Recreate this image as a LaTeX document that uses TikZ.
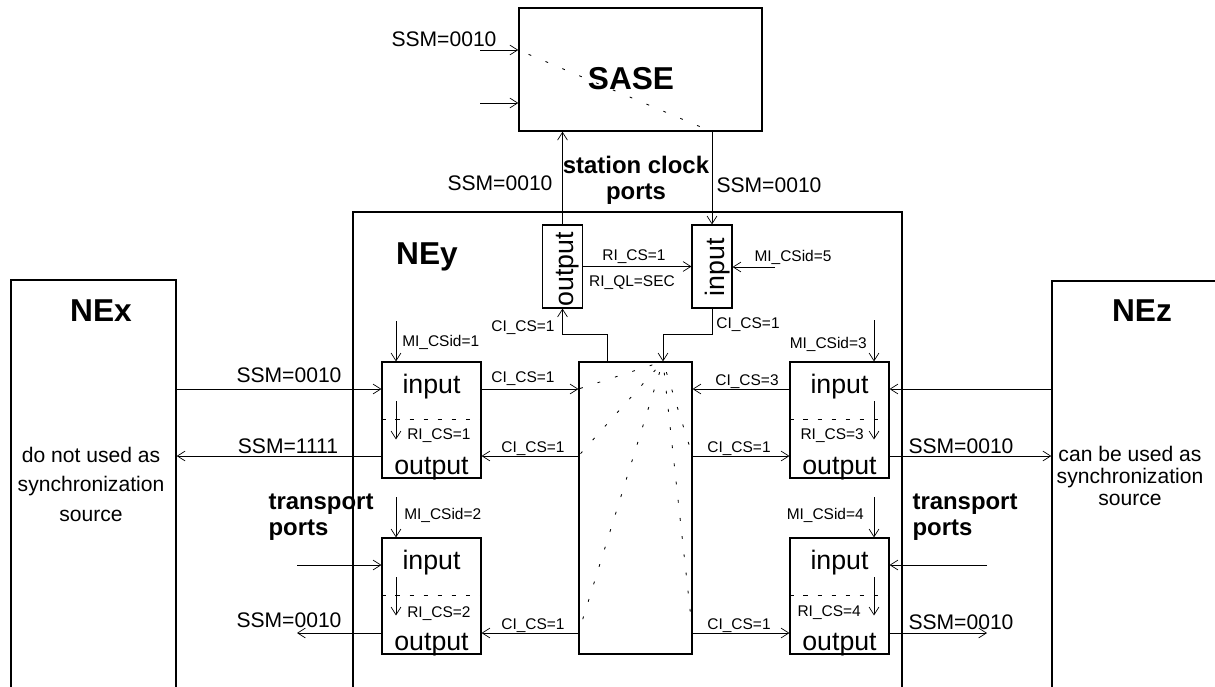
\documentclass[tikz,border=0pt]{standalone}
\usepackage{fontspec}
\setmainfont{Liberation Sans}
\usetikzlibrary{arrows.meta,calc,positioning}
\newcommand{\fsml}{\fontsize{11pt}{13pt}\selectfont}
\newcommand{\fmid}{\fontsize{15pt}{18pt}\selectfont}
\newcommand{\fprt}{\fontsize{19pt}{22pt}\selectfont}
\newcommand{\fhdr}{\fontsize{17pt}{18.5pt}\selectfont\bfseries}
\newcommand{\fttl}{\fontsize{22.5pt}{26pt}\selectfont\bfseries}

\begin{document}
\begin{tikzpicture}[x=0.025cm,y=-0.025cm,
  every node/.style={inner sep=0pt,font=\fsml},
  >={Straight Barb[length=5.5pt,width=7pt]},
  box/.style={draw,line width=0.8pt},
  ne/.style={draw,line width=1pt},
  portbox/.style={box,minimum width=2.475cm,minimum height=2.9cm},
  clkbox/.style={box,minimum width=1cm,minimum height=2.075cm},
  sig/.style={line width=0.5pt},
  dots/.style={line width=0.6pt,dash pattern=on 2pt off 11pt,dash phase=5pt},
  sep/.style={line width=0.5pt,dash pattern=on 3pt off 7pt},
  ssm/.style={font=\fmid}]
  \useasboundingbox (0,0) rectangle (1215,686);
  \clip (0,0) rectangle (1215,686);

  % network elements
  \node[ne,minimum width=4.125cm,minimum height=11cm] (nex) at (93.5,500) {};
  \node[ne,minimum width=13.725cm,minimum height=12.7cm] (ney) at (627.5,466) {};
  \node[ne,minimum width=4.95cm,minimum height=10.975cm] (nez) at (1151,500.5) {};
  \node[ne,minimum width=6.075cm,minimum height=3.075cm] (sase) at (640.5,69.5) {};
  \node[font=\fttl] (nexttl) at (101,311) {NEx};
  \node[font=\fttl] (neyttl) at (427,257) {NEy};
  \node[font=\fttl] (nezttl) at (1142,311) {NEz};
  \node[font=\fttl] (sasettl) at (631,78.5) {SASE};
  \node[font={\fontsize{15pt}{21pt}\selectfont},align=center] (nexsrc) at (91,484) {do not used as\\synchronization\\source};
  \node[font={\fontsize{15pt}{15.5pt}\selectfont},align=center] (nezsrc) at (1130,476) {can be used as\\synchronization\\source};

  % ports and matrix
  \node[box,minimum width=2.825cm,minimum height=7.3cm] (mx) at (635.5,508) {};
  \node[portbox] (p1) at (431.5,420) {};
  \node[portbox] (p2) at (431.5,596) {};
  \node[portbox] (p3) at (839.5,420) {};
  \node[portbox] (p4) at (839.5,596) {};
  \foreach \p in {p1,p2,p3,p4}{
    \draw[sep] ([yshift=-1.45cm]\p.north west) -- ([yshift=-1.45cm]\p.north east);
    \node[font=\fprt,anchor=base] (\p-in) at ([yshift=-0.8cm]\p.north) {input};
    \node[font=\fprt,anchor=base] (\p-out) at ([yshift=-2.83cm]\p.north) {output};
  }
  \node[clkbox] (clkout) at (562.5,266.5) {};
  \node[clkbox] (clkin) at (712,266.5) {};
  \node[font=\fprt,rotate=90] (clkouttxt) at (568,269) {output};
  \node[font=\fprt,rotate=90] (clkintxt) at (718,267.5) {input};

  % rows and free ends
  \coordinate (r1) at (0,389);
  \coordinate (r2) at (0,456);
  \coordinate (r3) at (0,565);
  \coordinate (r4) at (0,633);
  \coordinate (tl) at (297,0);
  \coordinate (tr) at (987,0);

  % left transport ports
  \draw[sig,->] (nex.east |- r1) -- (p1.west |- r1);
  \draw[sig,->] (p1.west |- r2) -- (nex.east |- r2);
  \draw[sig,->] (p1.east |- r1) -- (mx.west |- r1);
  \draw[sig,->] (mx.west |- r2) -- (p1.east |- r2);
  \draw[sig,->] (tl |- r3) -- (p2.west |- r3);
  \draw[sig,->] (p2.west |- r4) -- (tl |- r4);
  \draw[sig,->] (mx.west |- r4) -- (p2.east |- r4);
  % right transport ports
  \draw[sig,->] (nez.west |- r1) -- (p3.east |- r1);
  \draw[sig,->] (p3.east |- r2) -- (nez.west |- r2);
  \draw[sig,->] (p3.west |- r1) -- (mx.east |- r1);
  \draw[sig,->] (mx.east |- r2) -- (p3.west |- r2);
  \draw[sig,->] (tr |- r3) -- (p4.east |- r3);
  \draw[sig,->] (p4.east |- r4) -- (tr |- r4);
  \draw[sig,->] (mx.east |- r4) -- (p4.west |- r4);

  % MI and RI arrows
  \coordinate (mi1) at (396,321);
  \coordinate (mi2) at (396,497);
  \coordinate (mi3) at (874,320);
  \coordinate (mi4) at (874,497);
  \foreach \m/\p in {mi1/p1,mi2/p2,mi3/p3,mi4/p4}{
    \draw[sig,->] (\m) -- (\m |- \p.north);
    \draw[sig,->] ([yshift=-1cm]\m |- \p.north) -- ++(0,38);
  }

  % labels
  \node[anchor=west] (lmi1) at (402,342) {MI\_CSid=1};
  \node[anchor=west] (lmi2) at (404,515) {MI\_CSid=2};
  \node[anchor=east] (lmi3) at (867,344) {MI\_CSid=3};
  \node[anchor=east] (lmi4) at (864,515) {MI\_CSid=4};
  \node[anchor=west] (lri1) at (407,436) {RI\_CS=1};
  \node[anchor=west] (lri2) at (407,614) {RI\_CS=2};
  \node[anchor=east] (lri3) at (864,436) {RI\_CS=3};
  \node[anchor=east] (lri4) at (861,613) {RI\_CS=4};
  \node (lci1) at (523,379) {CI\_CS=1};
  \node (lci2) at (533,449) {CI\_CS=1};
  \node (lci3) at (533,626) {CI\_CS=1};
  \node (lci4) at (747,382) {CI\_CS=3};
  \node (lci5) at (739,449) {CI\_CS=1};
  \node (lci6) at (739,626) {CI\_CS=1};
  \node[ssm] (lssm1) at (289,375) {SSM=0010};
  \node[ssm] (lssm2) at (288,446) {SSM=1111};
  \node[ssm] (lssm3) at (289,620) {SSM=0010};
  \node[ssm] (lssm4) at (961,446) {SSM=0010};
  \node[ssm] (lssm5) at (961,622) {SSM=0010};
  \node[font=\fhdr,align=left] (tpl) at (321,517) {transport\\ports};
  \node[font=\fhdr,align=left] (tpr) at (965,517) {transport\\ports};

  % station clock ports
  \coordinate (s1) at (480,50);
  \coordinate (s2) at (480,103);
  \coordinate (mi5) at (775,267);
  \coordinate (k1) at (607,334);
  \coordinate (k2) at (663,334);
  \draw[sig,->] (s1) -- (sase.west |- s1);
  \draw[sig,->] (s2) -- (sase.west |- s2);
  \draw[dots] (sase.west |- s1) -- (sase.south -| clkin);
  \draw[sig,->] (clkout.north) -- (clkout.north |- sase.south);
  \draw[sig,->] (clkin.north |- sase.south) -- (clkin.north);
  \draw[sig,->] (clkout.east) -- (clkin.west);
  \draw[sig,->] (mi5) -- (clkin.east |- mi5);
  \draw[sig,->] (k1 |- mx.north) -- (k1) -| (clkout.south);
  \draw[sig,->] (clkin.south) |- (k2) -- (k2 |- mx.north);
  \node[ssm] (lssm6) at (444,39) {SSM=0010};
  \node[ssm] (lssm7) at (500,183) {SSM=0010};
  \node[ssm] (lssm8) at (769,185) {SSM=0010};
  \node[font=\fhdr,align=center] (sclk) at (636,180) {station clock\\ports};
  \node (lri5) at (634,257) {RI\_CS=1};
  \node (lql) at (632,283) {RI\_QL=SEC};
  \node (lmi5) at (793,257) {MI\_CSid=5};
  \node (lci7) at (523,328) {CI\_CS=1};
  \node (lci8) at (748,325) {CI\_CS=1};

  % cross-connections in the matrix
  \coordinate (hub) at (k2 |- mx.north);
  \foreach \r in {r1,r2,r4} \draw[dots] (hub) -- (mx.west |- \r);
  \foreach \r in {r2,r4} \draw[dots] (hub) -- (mx.east |- \r);
\end{tikzpicture}
\end{document}
